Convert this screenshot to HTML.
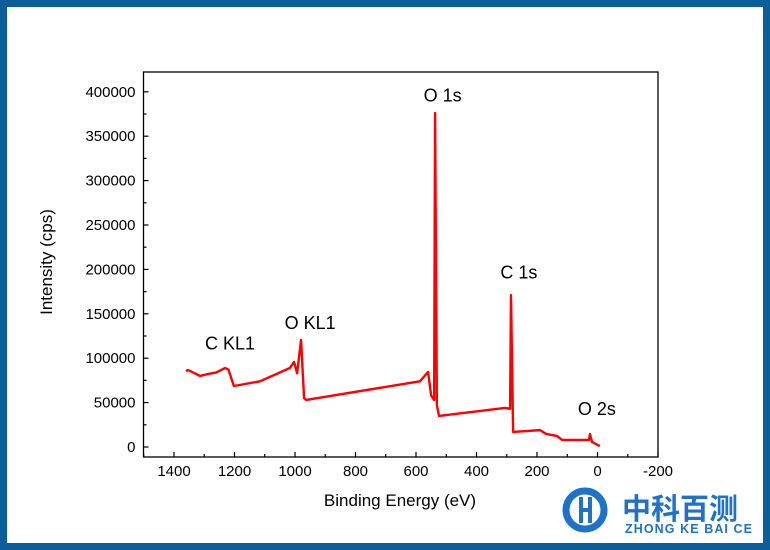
<!DOCTYPE html>
<html><head><meta charset="utf-8"><style>
html,body{margin:0;padding:0;background:#fff}
body{width:770px;height:550px;position:relative;overflow:hidden;font-family:"Liberation Sans",Arial,sans-serif}
.frame{position:absolute;left:0;top:0;width:756px;height:536px;border:7px solid #0b5e9a}
</style></head><body>
<div class="frame"></div>
<svg id="chart" width="770" height="550" style="position:absolute;left:0;top:0">
<g id="axes"></g>
<g>
<circle cx="585" cy="510" r="19" fill="none" stroke="#1e72c8" stroke-width="7"/>
<rect x="579" y="497" width="4" height="26" fill="#1e72c8"/><rect x="588" y="497" width="4" height="26" fill="#1e72c8"/>
<rect x="579" y="508" width="13" height="4" fill="#1e72c8"/>
<text x="622" y="519" font-size="29" font-weight="bold" fill="#1e72c8" font-family="Liberation Sans, Noto Sans CJK SC, sans-serif">中科百测</text>
<text x="625" y="533" font-size="12.5" font-weight="bold" fill="#1e72c8" textLength="127">ZHONG KE BAI CE</text>
</g>
</svg>
<script>
const energies=[1360,1354,1314,1290,1260,1231,1220,1202,1116,1017,1003,993,980,970,963,587,560,550,540,537,531,524,306,289,286,279,190,170,134,117,28,25,18,-8];
const intensities=[85000,86800,80000,82000,84000,89000,87000,68700,74000,89000,95800,83000,120600,55000,53000,74000,84500,58000,53000,376000,47000,35000,44000,43000,171000,17000,19000,14700,12400,7900,7900,14700,5600,1100];
const xTicks=[1400,1200,1000,800,600,400,200,0,-200];
const yTicks=[0,50000,100000,150000,200000,250000,300000,350000,400000];
const peakLabels=[{t:"C KL1",e:1215,v:110000},{t:"O KL1",e:950,v:133000},{t:"O 1s",e:512,v:389000},{t:"C 1s",e:260,v:190000},{t:"O 2s",e:2,v:36000}];
const NS="http://www.w3.org/2000/svg";
const X=e=>597.5-e*0.3025;
const Y=v=>447-v*0.000888;
const L=143.5,R=658,T=72,B=457;
const g=document.getElementById('axes');
function mk(tag,a){const el=document.createElementNS(NS,tag);for(const k in a)el.setAttribute(k,a[k]);g.appendChild(el);return el;}
const box=mk('rect',{x:L,y:T,width:R-L,height:B-T,fill:'none',stroke:'#000','stroke-width':1.3});


for(let e=1500;e>=-200;e-=100){const x=X(e);mk('line',{x1:x,x2:x,y1:B,y2:B-(e%200===0?5:3),stroke:'#000','stroke-width':1.2});}
xTicks.forEach(e=>{const t=mk('text',{x:X(e),y:B+19,'font-size':15,'text-anchor':'middle'});t.textContent=e;

});
for(let v=0;v<=425000;v+=25000){const y=Y(v);if(y<T)continue;mk('line',{x1:L,x2:L+(v%50000===0?5:3),y1:y,y2:y,stroke:'#000','stroke-width':1.2});}
yTicks.forEach(v=>{const t=mk('text',{x:L-8,y:Y(v)+5,'font-size':15,'text-anchor':'end'});t.textContent=v;

});
const xt=mk('text',{x:400,y:506,'font-size':17,'text-anchor':'middle'});xt.textContent='Binding Energy (eV)';


const yt=mk('text',{x:0,y:0,'font-size':17,'text-anchor':'middle',transform:'translate(52,262) rotate(-90)'});yt.textContent='Intensity (cps)';


const line=mk('polyline',{points:energies.map((e,i)=>X(e)+','+Y(intensities[i])).join(' '),fill:'none',stroke:'#ff0000','stroke-width':2.4,'stroke-linejoin':'round'});


peakLabels.forEach(p=>{const t=mk('text',{x:X(p.e),y:Y(p.v),'font-size':18,'text-anchor':'middle'});t.textContent=p.t;

});
</script>
</body></html>
